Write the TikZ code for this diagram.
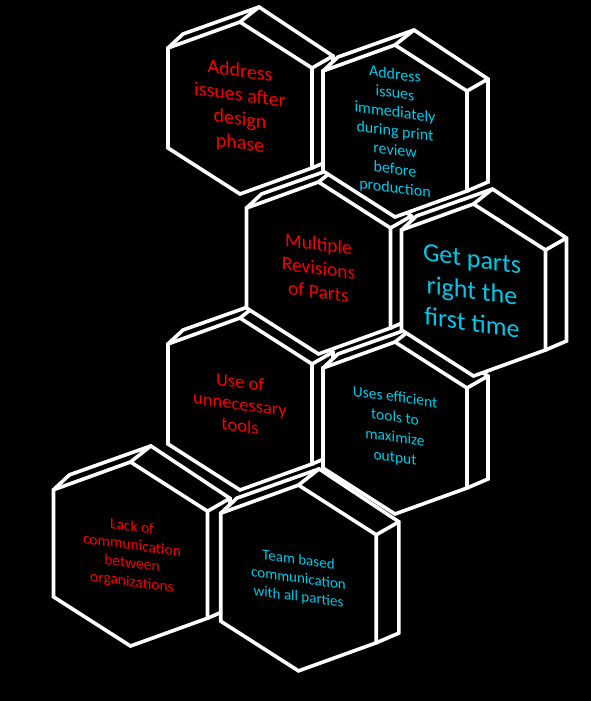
\documentclass[tikz,border=0pt]{standalone}
\usepackage{fontspec}
\setmainfont{Carlito}
\definecolor{hexred}{RGB}{245,0,0}
\definecolor{hexcyan}{RGB}{0,200,235}
\tikzset{
  hexline/.style={draw=white,line width=3.6pt,line join=miter},
  hexfill/.style={fill=black},
  hextext/.style={align=center,cm={1,-0.135,0,1,(0,0)},inner sep=0pt}
}
\newcommand\hexprism[3]{%
  \begin{scope}[shift={(#1,#2)},scale=#3]
    \fill[hexfill] (-57,-74) -- (19,-101) -- (93,-52) -- (93,51) -- (72,60) -- (0,86) -- (-72,40) -- (-72,-60) -- cycle;
    \draw[hexline] (0,-86) -- (72,-40) -- (72,60) -- (0,86) -- (-72,40) -- (-72,-60) -- cycle;
    \draw[hexline] (-72,-60) -- (-57,-74) -- (19,-101) -- (93,-52) -- (93,51) -- (72,60);
    \draw[hexline] (0,-86) -- (19,-101);
    \draw[hexline] (72,-40) -- (93,-52);
  \end{scope}
}
\newcommand\hexlabel[7]{%
  \node[hextext,text=#4,font={\fontsize{#5}{#6}\selectfont}] (#3) at (#1,#2) {#7};
}
\begin{document}
\begin{tikzpicture}[x=1pt,y=-1pt]
\fill[black] (0,0) rectangle (591,701);
\useasboundingbox (0,0) rectangle (591,701);
% shapes: lower rows first, so upper rows lie on top
\hexprism{130.5}{554}{1.07}
\hexprism{298.5}{578}{1.08}
\hexprism{240}{404}{1}
\hexprism{395}{428}{1}
\hexprism{318.5}{268}{1}
\hexprism{473.5}{290}{1}
\hexprism{240}{108}{1}
\hexprism{395}{131}{1}
% texts
\hexlabel{240}{108}{h1}{hexred}{20}{24}{Address\\issues after\\design\\phase}
\hexlabel{395}{132}{h2}{hexcyan}{16}{19}{Address\\issues\\immediately\\during print\\review\\before\\production}
\hexlabel{318.5}{268}{h3}{hexred}{19.5}{24}{Multiple\\Revisions\\of Parts}
\hexlabel{472}{291}{h4}{hexcyan}{26}{32}{Get parts\\right the\\first time}
\hexlabel{240}{404}{h5}{hexred}{18.5}{22}{Use of\\unnecessary\\tools}
\hexlabel{395}{428}{h6}{hexcyan}{15.5}{20}{Uses efficient\\tools to\\maximize\\output}
\hexlabel{132}{555}{h7}{hexred}{15.5}{18.5}{Lack of\\communication\\between\\organizations}
\hexlabel{298.5}{579}{h8}{hexcyan}{15}{18.5}{Team based\\communication\\with all parties}
\end{tikzpicture}
\end{document}
